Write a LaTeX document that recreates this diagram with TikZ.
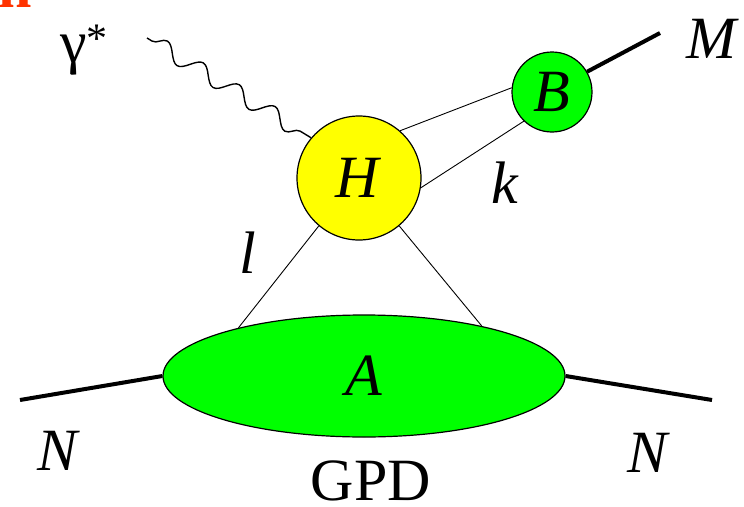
\documentclass[tikz,border=0pt]{standalone}
\usepackage{fontspec}
\setmainfont{Liberation Serif}
\usetikzlibrary{shapes.geometric,decorations.pathmorphing}
\definecolor{blobgreen}{HTML}{00FF00}
\definecolor{blobyellow}{HTML}{FFFF00}
\definecolor{titlered}{HTML}{FF3300}

\begin{document}
\begin{tikzpicture}[x=1pt,y=-1pt,font=\fontsize{60}{60}\selectfont,
  blob/.style={circle,draw=black,line width=1.2pt,inner sep=0pt},
  lbl/.style={anchor=base,inner sep=0pt},
  leg/.style={line width=4pt},
  prop/.style={line width=0.9pt}]
  \useasboundingbox (0,0) rectangle (744,506);
  \clip (0,0) rectangle (744,506);
  \node[lbl,text=titlered,font=\fontsize{60}{60}\selectfont\bfseries] (title) at (15,7) {n};
  \node[blob,fill=blobyellow,minimum size=124pt] (H) at (359,178) {\textit{H}};
  \node[blob,fill=blobgreen,minimum size=80pt] (B) at (552,92) {\textit{B}};
  \node[ellipse,draw=black,line width=1.2pt,fill=blobgreen,minimum width=402pt,minimum height=122pt,inner sep=0pt] (A) at (364,376) {\textit{A}};
  \coordinate (gin) at (147,38);
  \coordinate (Nin) at (20,400);
  \coordinate (Nout) at (712,400);
  \coordinate (Mout) at (660,33);
  \draw[line width=1.4pt,line join=round,decorate,decoration={snake,segment length=42pt,amplitude=8pt,pre length=6pt,post length=8pt}] (gin) -- (H.140);
  \draw[prop] (H.49) -- (B.174);
  \draw[prop] (H.-9) -- (B.226);
  \draw[prop] (H.230) -- (A.159);
  \draw[prop] (H.-50) -- (A.23);
  \draw[leg] (Nin) -- (A.west);
  \draw[leg] (A.east) -- (Nout);
  \draw[leg] (B.30) -- (Mout);
  \node[lbl,anchor=base west] (gam) at (60,62) {γ\textsuperscript{*}};
  \node[lbl] (Mlab) at (713,58) {\textit{M}};
  \node[lbl] (klab) at (505,203) {\textit{k}};
  \node[lbl] (llab) at (248,273) {\textit{l}};
  \node[lbl] (Nleft) at (59,470) {\textit{N}};
  \node[lbl] (Nright) at (649,472) {\textit{N}};
  \node[lbl] (gpd) at (371,500) {GPD};
\end{tikzpicture}
\end{document}
